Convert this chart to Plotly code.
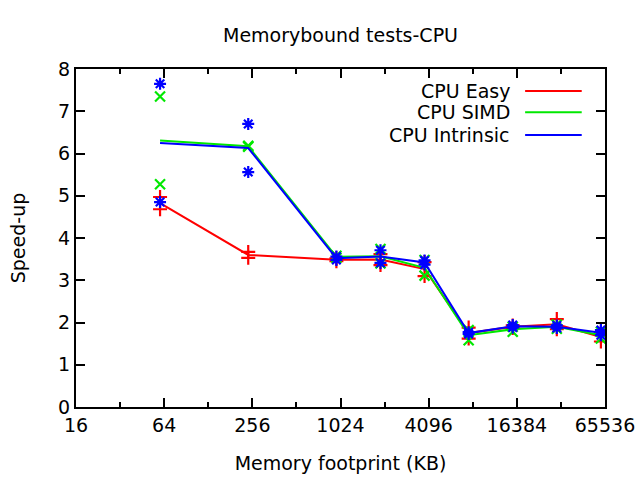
import numpy as np
import plotly.graph_objects as go

# Memory footprint (KB) of each test
footprint = [60, 240, 960, 1920, 3840, 7680, 15360, 30720, 61440]

# Two measured samples per footprint for each variant
easy_a = [4.97, 3.67, 3.52, 3.62, 3.43, 1.88, 1.93, 2.08, 1.76]
easy_b = [4.68, 3.53, 3.45, 3.36, 3.10, 1.62, 1.87, 1.84, 1.55]
simd_a = [7.35, 6.18, 3.58, 3.74, 3.48, 1.82, 1.90, 1.95, 1.78]
simd_b = [5.27, 6.16, 3.53, 3.40, 3.11, 1.58, 1.78, 1.85, 1.62]
intr_a = [7.65, 6.70, 3.56, 3.71, 3.47, 1.77, 1.94, 1.93, 1.82]
intr_b = [4.85, 5.56, 3.48, 3.41, 3.37, 1.73, 1.88, 1.87, 1.70]

series_names = ["CPU Easy", "CPU SIMD", "CPU Intrinsic"]
x_tick_vals = [16, 64, 256, 1024, 4096, 16384, 65536]
x_minor_vals = [32, 128, 512, 2048, 8192, 32768]
y_tick_vals = [0, 1, 2, 3, 4, 5, 6, 7, 8]

colors = ["#ff0000", "#00e800", "#0000ff"]
symbols = ["cross-thin-open", "x-thin-open", "asterisk-open"]
samples = [(easy_a, easy_b), (simd_a, simd_b), (intr_a, intr_b)]

FONT = "DejaVu Sans"
FS = 19
fig = go.Figure()

for name, (a, b), col, sym in zip(series_names, samples, colors, symbols):
    mean = (np.array(a) + np.array(b)) / 2.0
    fig.add_trace(go.Scatter(x=footprint, y=mean, mode="lines", name=name,
                             line=dict(color=col, width=2), showlegend=False))
    xs = footprint + footprint
    ys = list(a) + list(b)
    fig.add_trace(go.Scatter(x=xs, y=ys, mode="markers", showlegend=False,
                             marker=dict(symbol=sym, size=10, color=col,
                                         line=dict(color=col, width=2.2))))

# gnuplot-style legend: right-aligned text with line sample on the right
leg_y = [0.935, 0.872, 0.805]
for name, col, yy in zip(series_names, colors, leg_y):
    fig.add_annotation(x=0.825, y=yy, xref="paper", yref="paper", text=name,
                       showarrow=False, xanchor="right", yanchor="middle",
                       font=dict(family=FONT, size=FS, color="black"))
    fig.add_shape(type="line", xref="paper", yref="paper", x0=0.849, x1=0.956,
                  y0=yy, y1=yy, line=dict(color=col, width=2))

fig.update_layout(
    width=640, height=480,
    margin=dict(l=76, r=35, t=69, b=73, autoexpand=False),
    paper_bgcolor="white", plot_bgcolor="white",
    font=dict(family=FONT, size=FS, color="black"),
    title=dict(text="Memorybound tests-CPU", x=0.5, xanchor="center",
               xref="paper", yref="container",
               y=0.927, yanchor="middle", font=dict(family=FONT, size=FS)),
    showlegend=False,
)
fig.update_xaxes(
    type="log", range=[np.log10(16), np.log10(65536)], automargin=False,
    tickmode="array", tickvals=x_tick_vals, ticktext=[str(v) for v in x_tick_vals],
    ticks="inside", ticklen=9, tickwidth=2, tickcolor="black",
    minor=dict(tickmode="array", tickvals=x_minor_vals, ticks="inside",
               ticklen=5, tickwidth=2, tickcolor="black", showgrid=False),
    showline=True, linecolor="black", linewidth=2, mirror="allticks",
    showgrid=False, zeroline=False,
    title=dict(text="Memory footprint (KB)", standoff=22,
               font=dict(family=FONT, size=FS)),
    tickfont=dict(family=FONT, size=FS),
)
fig.update_yaxes(
    range=[0, 8], tickmode="array", tickvals=y_tick_vals, automargin=False,
    ticks="inside", ticklen=9, tickwidth=2, tickcolor="black",
    showline=True, linecolor="black", linewidth=2, mirror="allticks",
    showgrid=False, zeroline=False,
    title=dict(text="Speed-up", standoff=27, font=dict(family=FONT, size=FS)),
    tickfont=dict(family=FONT, size=FS),
)

# remove the default page margin so the figure sits at the window's corner
fig.write_html("out.html", config={"displayModeBar": False},
               post_script="document.body.style.margin='0';document.body.style.overflow='hidden';")
